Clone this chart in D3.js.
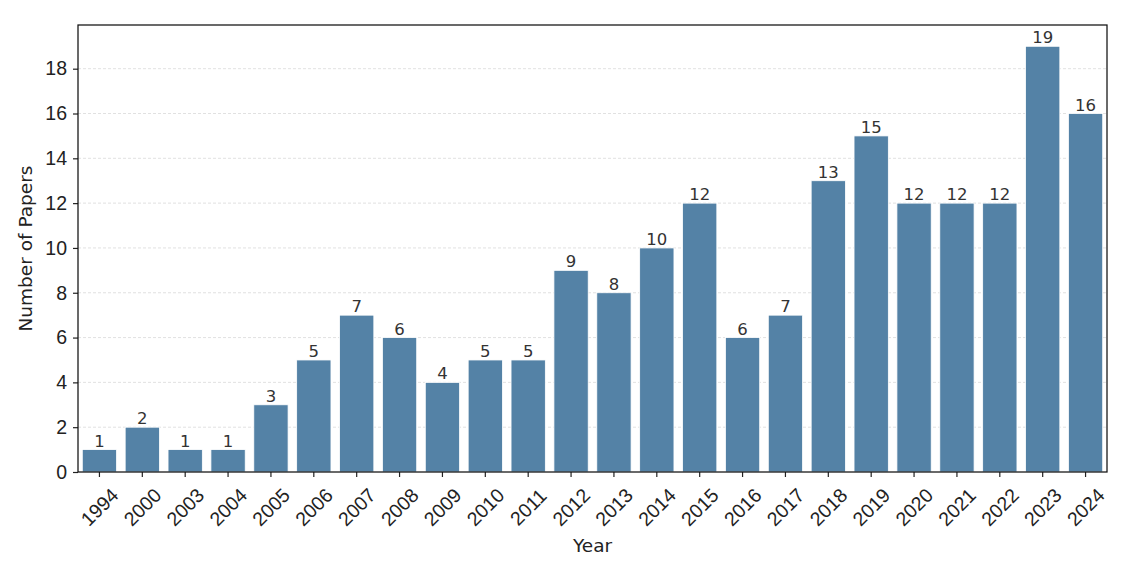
<!DOCTYPE html>
<html>
<head>
<meta charset="utf-8">
<script src="https://cdn.jsdelivr.net/npm/d3@7"></script>
<style>
  body { margin: 0; background: #fff; }
  svg { font-family: "DejaVu Sans", sans-serif; }
</style>
</head>
<body>
<script>
// jaren en aantal papers
var years = ["1994","2000","2003","2004","2005","2006","2007","2008","2009","2010","2011","2012",
             "2013","2014","2015","2016","2017","2018","2019","2020","2021","2022","2023","2024"]
var papers = [1,2,1,1,3,5,7,6,4,5,5,9,8,10,12,6,7,13,15,12,12,12,19,16]
var yTicks = [0,2,4,6,8,10,12,14,16,18]

var width = 1130
var height = 574
var margin = {top: 25, right: 23, bottom: 102, left: 78}
var innerW = width - margin.left - margin.right
var innerH = height - margin.top - margin.bottom
var fs = "18.5px"
var tickFs = "19.5px"

var svg = d3.select("body").append("svg")
    .attr("width", width)
    .attr("height", height)

var g = svg.append("g")
    .attr("transform", `translate(${margin.left},${margin.top})`)

var x = d3.scaleBand().domain(years).range([0, innerW]).paddingInner(0.2).paddingOuter(0.1)
var y = d3.scaleLinear().domain([0, 19.95]).range([innerH, 0])

// grid lijnen
g.append("g")
  .selectAll("line")
  .data(yTicks.slice(1))
  .enter().append("line")
  .attr("x1", 0).attr("x2", innerW)
  .attr("y1", d => y(d)).attr("y2", d => y(d))
  .style("stroke", "#d9d9d9")
  .style("stroke-width", 0.8)
  .style("stroke-dasharray", "3,2")

// bars
g.selectAll(".bar")
  .data(papers)
  .enter().append("rect")
  .attr("class", "bar")
  .attr("x", (d, i) => x(years[i]))
  .attr("y", d => y(d))
  .attr("width", x.bandwidth())
  .attr("height", d => innerH - y(d))
  .style("fill", "#5482a6")
  .style("stroke", "#fff")
  .style("stroke-width", 0.8)

// labels boven de bars
g.selectAll(".lbl")
  .data(papers)
  .enter().append("text")
  .attr("class", "lbl")
  .attr("x", (d, i) => x(years[i]) + x.bandwidth() / 2)
  .attr("y", d => y(d) - 3)
  .attr("text-anchor", "middle")
  .style("font-size", "16.5px")
  .style("fill", "#333")
  .text(d => d)

// y as
var yAxis = d3.axisLeft(y).tickValues(yTicks).tickSize(5).tickPadding(6)
var ya = g.append("g").call(yAxis)
ya.select(".domain").remove()
ya.selectAll("line").style("stroke", "#222").style("stroke-width", 1.2)
ya.selectAll("text").style("font-size", tickFs).style("fill", "#222").attr("font-family", null)

// x as
var xAxis = d3.axisBottom(x).tickSize(5).tickPadding(0)
var xa = g.append("g").attr("transform", `translate(0,${innerH})`).call(xAxis)
xa.select(".domain").remove()
xa.selectAll("line").style("stroke", "#222").style("stroke-width", 1.2)
xa.selectAll("text")
  .attr("y", 0).attr("dy", null)
  .attr("transform", "translate(0,35) rotate(-45)")
  .attr("text-anchor", "middle")
  .attr("dominant-baseline", "central")
  .attr("font-family", null)
  .style("font-size", tickFs)
  .style("fill", "#222")

// kader
g.append("rect")
  .attr("width", innerW).attr("height", innerH)
  .style("fill", "none").style("stroke", "#111").style("stroke-width", 1.25)

// as labels
svg.append("text")
  .attr("x", margin.left + innerW / 2)
  .attr("y", 552)
  .attr("text-anchor", "middle")
  .style("font-size", fs)
  .style("fill", "#222")
  .text("Year")

svg.append("text")
  .attr("transform", `translate(32,${margin.top + innerH / 2}) rotate(-90)`)
  .attr("text-anchor", "middle")
  .style("font-size", fs)
  .style("fill", "#222")
  .text("Number of Papers")
</script>
</body>
</html>
